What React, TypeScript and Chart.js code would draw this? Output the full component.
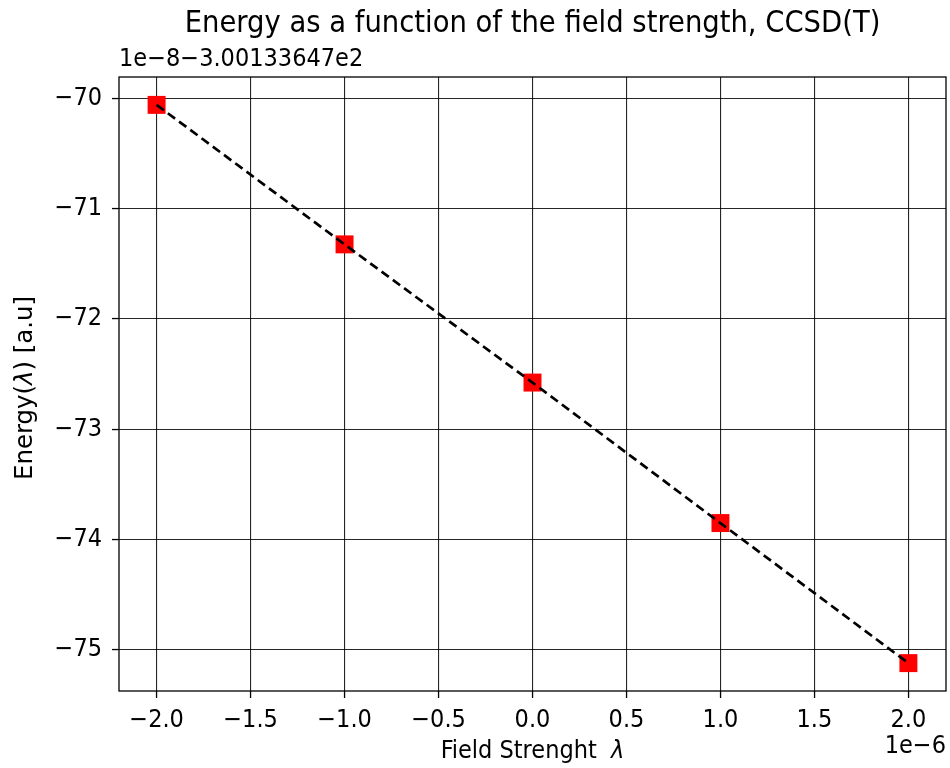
import React, { useEffect, useRef } from "react";
import { Chart, registerables } from "chart.js";

Chart.register(...registerables);

const fieldStrength = [-2.0, -1.0, 0.0, 1.0, 2.0];
const energy = [-70.057, -71.323, -72.577, -73.852, -75.123];
const xTicks = [-2.0, -1.5, -1.0, -0.5, 0.0, 0.5, 1.0, 1.5, 2.0];
const yTicks = [-75, -74, -73, -72, -71, -70];
const titleText = "Energy as a function of the field strength, CCSD(T)";
const yOffsetText = "1e\u22128\u22123.00133647e2";
const xOffsetText = "1e\u22126";
const xLabelParts = [
  { t: "Field Strenght  ", i: false },
  { t: "\u03bb", i: true },
];
const yLabelParts = [
  { t: "Energy(", i: false },
  { t: "\u03bb", i: true },
  { t: ") [a.u]", i: false },
];

const FONT = "'DejaVu Sans Condensed', 'DejaVu Sans', sans-serif";
const FONT_R = "'DejaVu Sans', sans-serif";
const FS = 25;

const fmt = (v: number, d: number) => {
  const s = Math.abs(v).toFixed(d);
  return (v < 0 ? "\u2212" : "") + s;
};

function drawParts(
  ctx: CanvasRenderingContext2D,
  parts: { t: string; i: boolean }[],
  size: number,
  family: string
) {
  const fonts = parts.map((p) => `${p.i ? "italic " : ""}${size}px ${family}`);
  let total = 0;
  const widths = parts.map((p, k) => {
    ctx.font = fonts[k];
    const w = ctx.measureText(p.t).width;
    total += w;
    return w;
  });
  let x = -total / 2;
  ctx.textAlign = "left";
  parts.forEach((p, k) => {
    ctx.font = fonts[k];
    ctx.fillText(p.t, x, 0);
    x += widths[k];
  });
}

const decorPlugin = {
  id: "decor",
  afterDraw(chart: any) {
    const { ctx, chartArea } = chart;
    const { left, right, top, bottom } = chartArea;
    ctx.save();
    ctx.strokeStyle = "#000";
    ctx.lineWidth = 1.3;
    ctx.strokeRect(left, top, right - left, bottom - top);
    ctx.fillStyle = "#000";
    ctx.textBaseline = "middle";
    ctx.font = `30.5px ${FONT}`;
    ctx.textAlign = "center";
    ctx.fillText(titleText, (left + right) / 2, 24);
    ctx.font = `${FS}px ${FONT}`;
    ctx.textAlign = "left";
    ctx.fillText(yOffsetText, left, 59);
    ctx.textAlign = "right";
    ctx.fillText(xOffsetText, right, 746);
    ctx.save();
    ctx.translate((left + right) / 2, 751);
    drawParts(ctx, xLabelParts, FS, FONT);
    ctx.restore();
    ctx.save();
    ctx.translate(26, 388);
    ctx.rotate(-Math.PI / 2);
    drawParts(ctx, yLabelParts, 24.4, FONT_R);
    ctx.restore();
    ctx.restore();
  },
};

export default function App() {
  const ref = useRef<HTMLCanvasElement | null>(null);
  useEffect(() => {
    if (!ref.current) return;
    const chart = new Chart(ref.current, {
      type: "scatter",
      data: {
        datasets: [
          {
            type: "line",
            data: fieldStrength.map((x, i) => ({ x, y: energy[i] })),
            borderColor: "#000",
            borderWidth: 2.7,
            borderDash: [9, 5],
            pointRadius: 0,
            fill: false,
          } as any,
          {
            data: fieldStrength.map((x, i) => ({ x, y: energy[i] })),
            backgroundColor: "#ff0000",
            borderColor: "#ff0000",
            borderWidth: 0,
            pointStyle: "rect",
            pointRadius: 12.7,
          },
        ],
      },
      plugins: [decorPlugin],
      options: {
        animation: false,
        responsive: false,
        maintainAspectRatio: false,
        layout: { autoPadding: false, padding: { top: 77, right: 4, left: 0, bottom: 0 } },
        plugins: { legend: { display: false }, tooltip: { enabled: false }, title: { display: false } },
        scales: {
          x: {
            type: "linear",
            min: -2.2,
            max: 2.2,
            afterBuildTicks: (s: any) => {
              s.ticks = xTicks.map((v) => ({ value: v }));
            },
            afterFit: (s: any) => {
              s.height = 77;
              s.paddingLeft = 0;
              s.paddingRight = 0;
            },
            ticks: {
              color: "#000",
              font: { family: FONT, size: FS },
              padding: 7,
              maxRotation: 0,
              autoSkip: false,
              callback: (v: any) => fmt(Number(v), 1),
            },
            grid: {
              color: "rgba(0,0,0,0.85)",
              lineWidth: 1.1,
              tickLength: 7,
              tickColor: "#000",
              tickWidth: 1.3,
            },
            border: { display: false },
          },
          y: {
            type: "linear",
            min: -75.376,
            max: -69.804,
            afterBuildTicks: (s: any) => {
              s.ticks = yTicks.map((v) => ({ value: v }));
            },
            afterFit: (s: any) => {
              s.width = 119;
              s.paddingTop = 0;
              s.paddingBottom = 0;
            },
            ticks: {
              color: "#000",
              font: { family: FONT, size: FS },
              padding: 10,
              autoSkip: false,
              callback: (v: any) => fmt(Number(v), 0),
            },
            grid: {
              color: "rgba(0,0,0,0.85)",
              lineWidth: 1.1,
              tickLength: 7,
              tickColor: "#000",
              tickWidth: 1.3,
            },
            border: { display: false },
          },
        },
      },
    } as any);
    return () => chart.destroy();
  }, []);
  return (
    <div style={{ position: "fixed", left: 0, top: 0, width: 950, height: 768, background: "#fff" }}>
      <canvas ref={ref} width={950} height={768} style={{ width: 950, height: 768 }} />
    </div>
  );
}
